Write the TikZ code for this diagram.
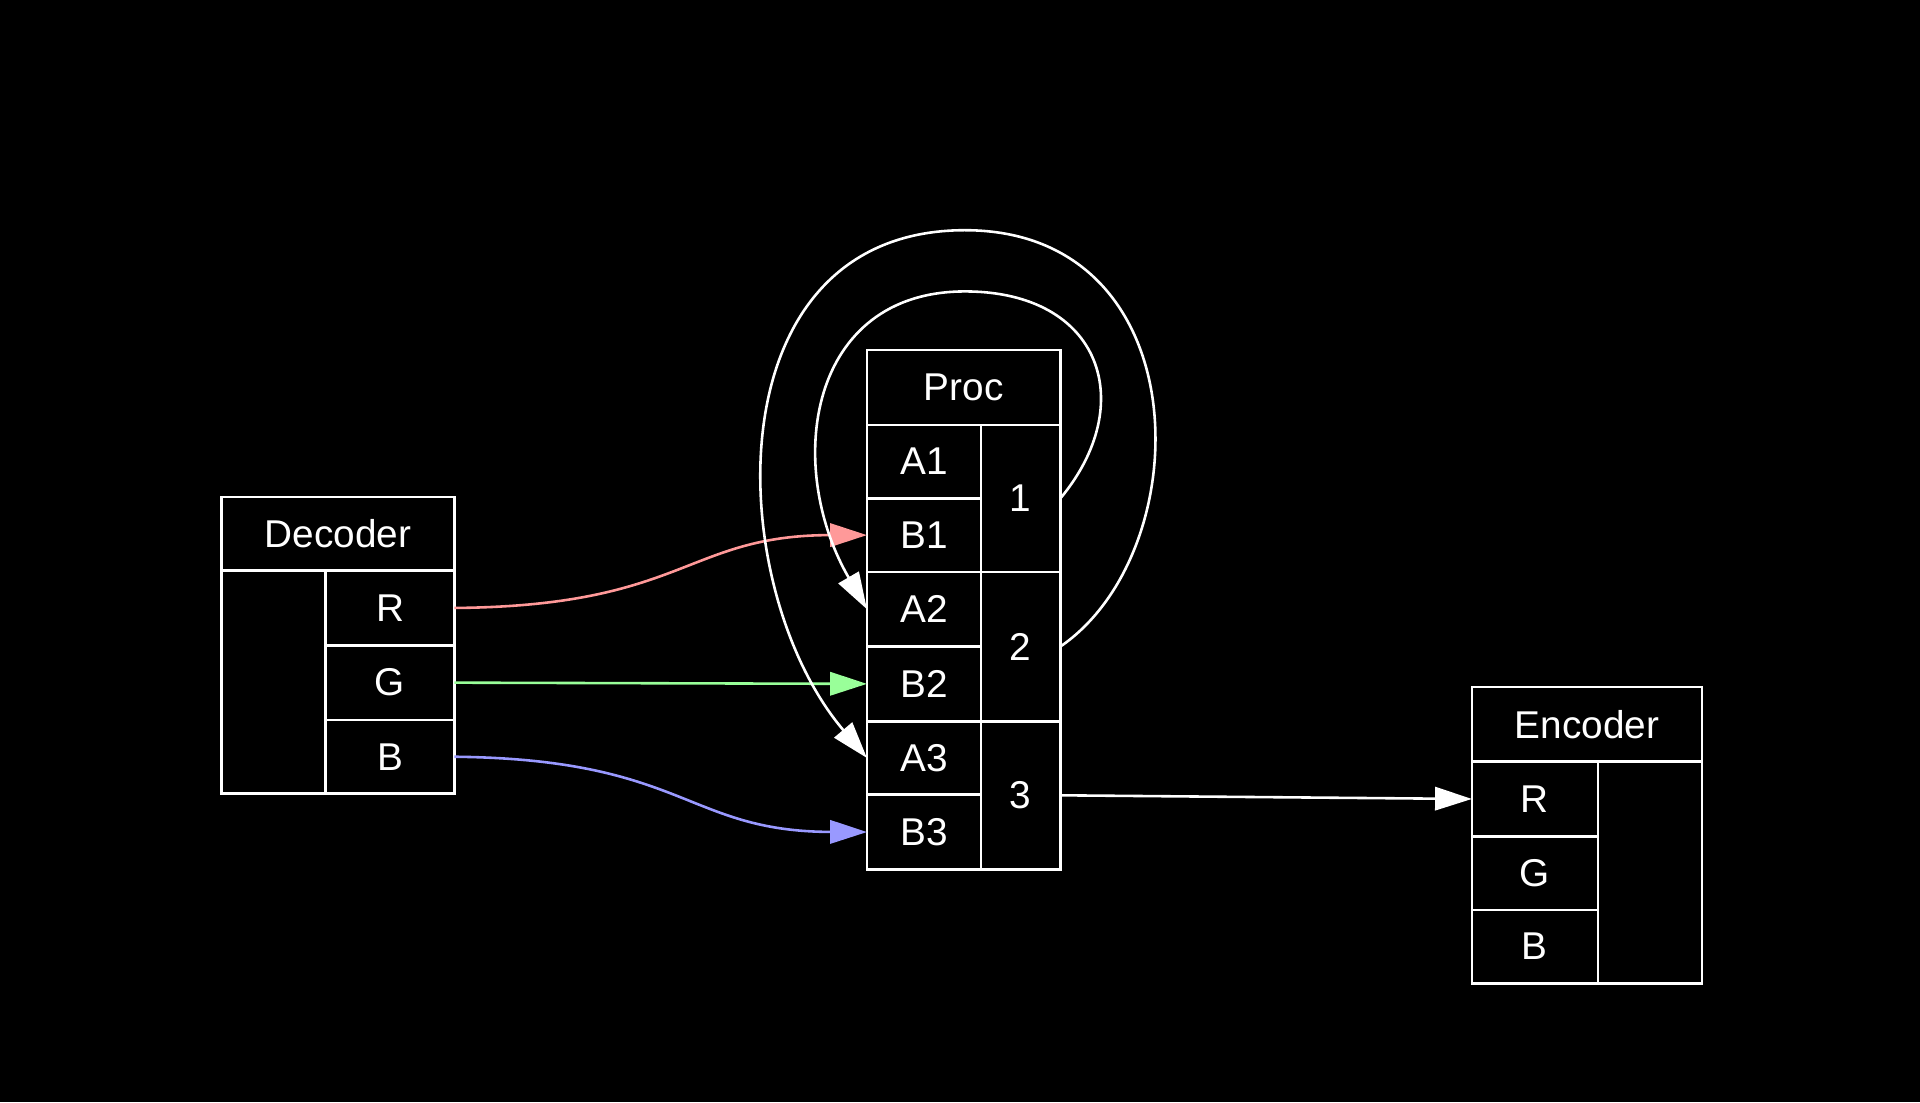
\documentclass[tikz,border=0pt]{standalone}
\usepackage{fontspec}
\setmainfont{Liberation Sans}
\usetikzlibrary{arrows.meta}
\definecolor{edgeR}{HTML}{FF9999}
\definecolor{edgeG}{HTML}{99FF99}
\definecolor{edgeB}{HTML}{9999FF}
\tikzset{
  cell/.style={draw=white,line width=0.6pt,text=white,inner sep=0pt,outer sep=0pt,
    font=\fontsize{9}{10}\selectfont},
  link/.style={line width=0.6pt,-{Triangle[length=0.3cm,width=0.19cm]}}
}
% cell: name, left, top, right, bottom, text
\newcommand{\reccell}[6]{\node[cell,minimum width={(#4-#2)*0.01cm},minimum height={(#5-#3)*0.01cm}]
  (#1) at ({(#2+#4)/2},{(#3+#5)/2}) {#6};}
\begin{document}
\begin{tikzpicture}[x=0.01cm,y=-0.01cm]
\fill[black] (0,0) rectangle (1568,900);

% Decoder
\reccell{dec}{181}{406}{371}{466}{Decoder}
\reccell{decL}{181}{466}{266}{648}{}
\reccell{decR}{266}{466}{371}{527}{R}
\reccell{decG}{266}{527}{371}{588}{G}
\reccell{decB}{266}{588}{371}{648}{B}

% Proc
\reccell{proc}{708}{286}{866}{347}{Proc}
\reccell{pA1}{708}{347}{801}{407}{A1}
\reccell{pB1}{708}{407}{801}{467}{B1}
\reccell{pA2}{708}{467}{801}{528}{A2}
\reccell{pB2}{708}{528}{801}{589}{B2}
\reccell{pA3}{708}{589}{801}{649}{A3}
\reccell{pB3}{708}{649}{801}{710}{B3}
\reccell{p1}{801}{347}{866}{467}{1}
\reccell{p2}{801}{467}{866}{589}{2}
\reccell{p3}{801}{589}{866}{710}{3}

% Encoder
\reccell{enc}{1202}{561}{1390}{622}{Encoder}
\reccell{encR}{1202}{622}{1305}{683}{R}
\reccell{encG}{1202}{683}{1305}{743}{G}
\reccell{encB}{1202}{743}{1305}{803}{B}
\reccell{encX}{1305}{622}{1390}{803}{}

\draw[link,edgeR] (decR.east) .. controls (560,495) and (560,437) .. (pB1.west);
\draw[link,edgeG] (decG.east) -- (pB2.west);
\draw[link,edgeB] (decB.east) .. controls (560,620) and (560,679) .. (pB3.west);
\draw[link,white] (p3.east) -- (encR.west);
\draw[link,white] (p1.east) .. controls (930,330) and (900,238) .. (788,238)
  .. controls (660,238) and (640,380) .. (pA2.west);
\draw[link,white] (p2.east) .. controls (980,450) and (980,188) .. (788,188)
  .. controls (580,188) and (590,480) .. (pA3.west);
\end{tikzpicture}
\end{document}
